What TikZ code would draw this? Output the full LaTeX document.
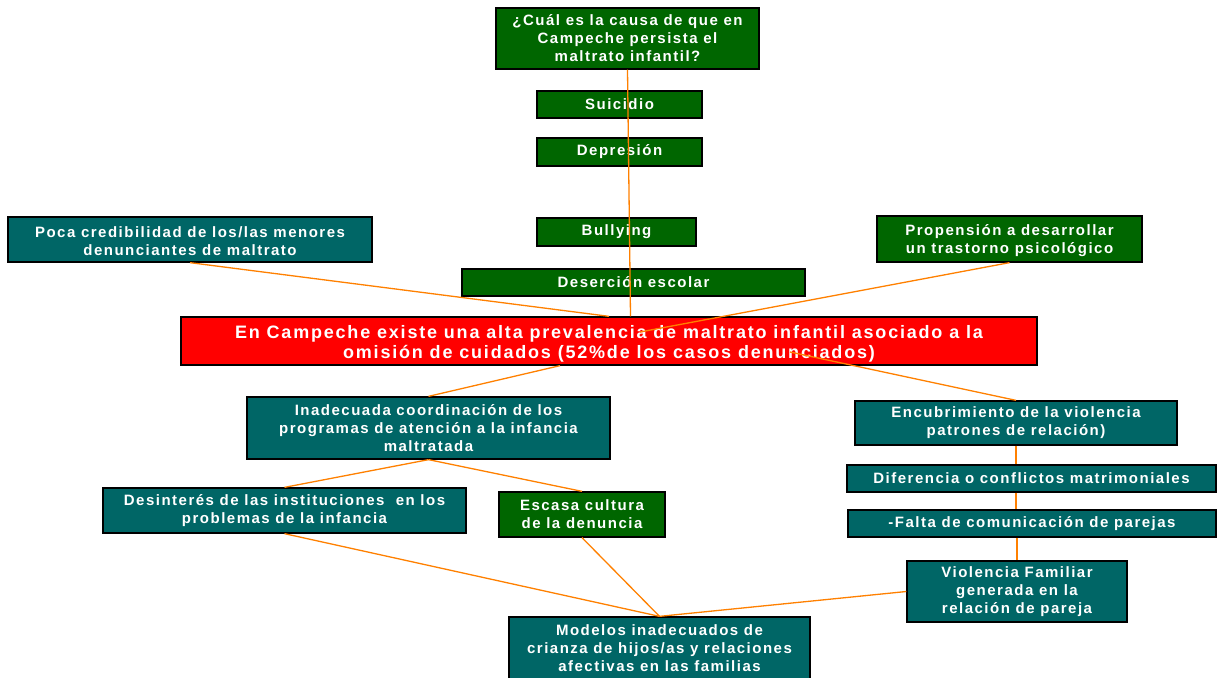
\documentclass[tikz,border=0pt]{standalone}
\usepackage{fontspec}
\usetikzlibrary{calc}
\newfontfamily\boxfont{Liberation Sans}[LetterSpace=10]
\newfontfamily\redfont{Liberation Sans}[LetterSpace=10]
\definecolor{dkgreen}{RGB}{0,102,0}
\definecolor{tealbox}{RGB}{0,102,102}
\definecolor{redbox}{RGB}{255,0,0}
\definecolor{lineorange}{RGB}{255,128,0}
\tikzset{
  box/.style={draw=black, line width=1.3pt, text=white, align=center, inner sep=0pt,
    font=\boxfont\bfseries\fontsize{15}{18}\selectfont},
  gbox/.style={box, fill=dkgreen},
  tbox/.style={box, fill=tealbox},
  rbox/.style={box, fill=redbox, font=\redfont\bfseries\fontsize{18}{20}\selectfont},
  link/.style={draw=lineorange, line width=1.3pt}
}
\begin{document}
\begin{tikzpicture}[x=1pt,y=-1pt]
\useasboundingbox (0,0) rectangle (1217,677);
\begin{scope}
\clip (0,0) rectangle (1217,677);
% top
\node[gbox, minimum width=263pt, minimum height=61pt] (q) at (627.5,38.5) {¿Cuál es la causa de que en\\Campeche persista el\\maltrato infantil?};
\node[gbox, minimum width=165pt, minimum height=27pt] (sui) at (619.5,104.5) {Suicidio};
\node[gbox, minimum width=165pt, minimum height=28pt] (dep) at (619.5,152) {Depresión};
\node[gbox, minimum width=159pt, minimum height=28pt] (bul) at (616.5,232) {Bullying};
\node[gbox, minimum width=343pt, minimum height=27pt] (des) at (633.5,282.5) {Deserción escolar};
\node[tbox, minimum width=364pt, minimum height=45pt] (poca) at (190,239.5) {\rule{0pt}{14pt}Poca credibilidad de los/las menores\\denunciantes de maltrato};
\node[gbox, minimum width=265pt, minimum height=46pt] (prop) at (1009.5,239) {\rule{0pt}{14pt}Propensión a desarrollar\\un trastorno psicológico};
% central
\node[rbox, minimum width=856pt, minimum height=48pt] (red) at (609,341) {\rule{0pt}{19pt}En Campeche existe una alta prevalencia de maltrato infantil asociado a la\\omisión de cuidados (52\%de los casos denunciados)};
% lower left
\node[tbox, minimum width=363pt, minimum height=62pt] (inad) at (428.5,428) {Inadecuada coordinación de los\\programas de atención a la infancia\\maltratada};
\node[tbox, minimum width=363pt, minimum height=45pt] (desi) at (284.5,510.5) {Desinterés de las instituciones\ \ en los\\problemas de la infancia};
\node[gbox, minimum width=166pt, minimum height=45pt] (esc) at (582,514.5) {Escasa cultura\\de la denuncia};
% lower right
\node[tbox, minimum width=322pt, minimum height=44pt] (enc) at (1016,423) {Encubrimiento de la violencia\\patrones de relación)};
\node[tbox, minimum width=369pt, minimum height=27pt] (dif) at (1031.5,478.5) {Diferencia o conflictos matrimoniales};
\node[tbox, minimum width=368pt, minimum height=27pt] (falta) at (1032,523.5) {-Falta de comunicación de parejas};
\node[tbox, minimum width=220pt, minimum height=61pt] (viol) at (1017,591.5) {Violencia Familiar\\generada en la\\relación de pareja};
\node[tbox, minimum width=301pt, minimum height=62pt] (mod) at (659.5,648) {Modelos inadecuados de\\crianza de hijos/as y relaciones\\afectivas en las familias};
% connectors
\coordinate (redin) at ($(red.center)+(31,-9)$);
\coordinate (redbl) at ($(red.south)+(-49,0)$);
\coordinate (redr) at ($(red.center)+(181,11)$);
\draw[link] (q.south) -- ($(q.south |- red.north)+(3,0)$);
\draw[link] (poca.south) -- (red.north);
\draw[link] (prop.south) -- (redin);
\draw[link] (redbl) -- (inad.north);
\draw[link] (redr) -- (enc.north);
\draw[link] (inad.south) -- (desi.north);
\draw[link] (inad.south) -- (esc.north);
\draw[link] (desi.south) -- (mod.north);
\draw[link] (esc.south) -- (mod.north);
\draw[link] (viol.west) -- (mod.north);
\draw[link] (enc.south) -- (enc.south |- dif.north);
\draw[link] (enc.south |- dif.south) -- (enc.south |- falta.north);
\draw[link] (falta.south -| viol.north) -- (viol.north);
\end{scope}
\end{tikzpicture}
\end{document}
